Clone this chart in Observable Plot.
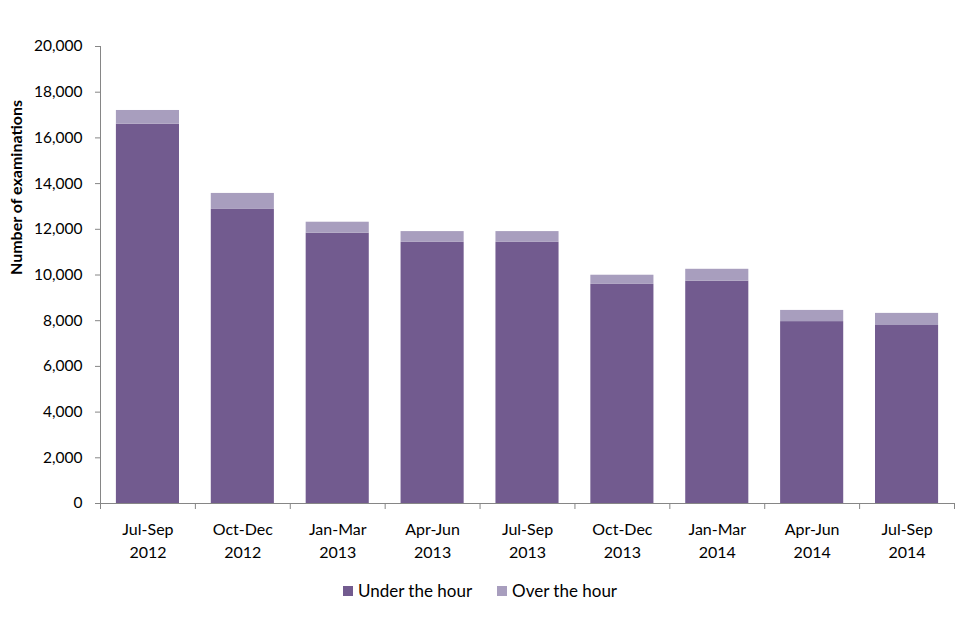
<!DOCTYPE html>
<html>
<head>
<meta charset="utf-8">
<script src="https://cdn.jsdelivr.net/npm/d3@7"></script>
<script src="https://cdn.jsdelivr.net/npm/@observablehq/plot@0.6"></script>
<style>
  html, body { margin: 0; padding: 0; background: #fff; }
  body { width: 960px; height: 640px; font-family: Lato, "Open Sans", sans-serif; }
  #legend { display: flex; justify-content: center; align-items: center; gap: 25px; font-size: 17px; color: #000; margin-top: 10px; padding-left: 0px; }
  .item { display: flex; align-items: center; }
  .sw { width: 10px; height: 10px; margin-right: 5px; display: inline-block; }
</style>
</head>
<body>
<div id="chart"></div>
<div id="legend"></div>
<script>
const quarters = ["Jul-Sep 2012", "Oct-Dec 2012", "Jan-Mar 2013", "Apr-Jun 2013", "Jul-Sep 2013", "Oct-Dec 2013", "Jan-Mar 2014", "Apr-Jun 2014", "Jul-Sep 2014"];
const underHour = [16600, 12870, 11830, 11430, 11430, 9590, 9730, 7960, 7790];
const overHour = [600, 700, 480, 470, 470, 400, 520, 490, 530];
const seriesNames = ["Under the hour", "Over the hour"];
const seriesColors = ["#725B8F", "#A89EBE"];
const yTicks = d3.range(0, 20001, 2000);

const rows = [];
quarters.forEach((q, i) => {
  rows.push({quarter: q, series: seriesNames[0], value: underHour[i]});
  rows.push({quarter: q, series: seriesNames[1], value: overHour[i]});
});

const width = 960, marginLeft = 100, marginRight = 6;
const step = (width - marginLeft - marginRight) / quarters.length;
const axisColor = "#868686";
const font = "Lato, 'Open Sans', sans-serif";

const plot = Plot.plot({
  width,
  height: 570,
  marginLeft,
  marginRight,
  marginTop: 46,
  marginBottom: 67,
  style: {fontFamily: font, fontSize: "15px", color: "#000", background: "#fff"},
  x: {domain: quarters, paddingInner: 0.335, paddingOuter: 0.1675, round: false, axis: null},
  y: {domain: [0, 20000], axis: null},
  color: {domain: seriesNames, range: seriesColors},
  marks: [
    Plot.barY(rows, Plot.stackY({x: "quarter", y: "value", fill: "series", order: seriesNames})),
    // y axis line
    Plot.ruleX([quarters[0]], {dx: -step / 2, stroke: axisColor}),
    // y ticks and labels
    Plot.axisY(yTicks, {anchor: "left", tickSize: 5, tickPadding: 13, stroke: axisColor, fill: "#000", fontSize: 15.5, tickFormat: d3.format(","), label: null}),
    // x axis line
    Plot.ruleY([0], {stroke: axisColor}),
    // x tick marks at category boundaries
    Plot.axisX(quarters, {anchor: "bottom", tickSize: 6, dx: -step / 2, stroke: axisColor, tickFormat: () => "", label: null}),
    Plot.axisX([quarters[quarters.length - 1]], {anchor: "bottom", tickSize: 6, dx: step / 2, stroke: axisColor, tickFormat: () => "", label: null}),
    // x labels (two lines)
    Plot.text(quarters, {x: d => d, frameAnchor: "bottom", lineAnchor: "top", dy: 16, text: d => d.replace(" ", "\n"), lineHeight: 1.4, fontSize: 16, fill: "#000"}),
    // y axis title
    Plot.text(["Number of examinations"], {frameAnchor: "left", rotate: -90, dx: -84, fontWeight: "bold", fontSize: 16, fill: "#000"})
  ]
});
document.getElementById("chart").appendChild(plot);

const legend = document.getElementById("legend");
seriesNames.forEach((name, i) => {
  const item = document.createElement("div");
  item.className = "item";
  const sw = document.createElement("span");
  sw.className = "sw";
  sw.style.background = seriesColors[i];
  item.appendChild(sw);
  item.appendChild(document.createTextNode(name));
  legend.appendChild(item);
});
</script>
</body>
</html>
